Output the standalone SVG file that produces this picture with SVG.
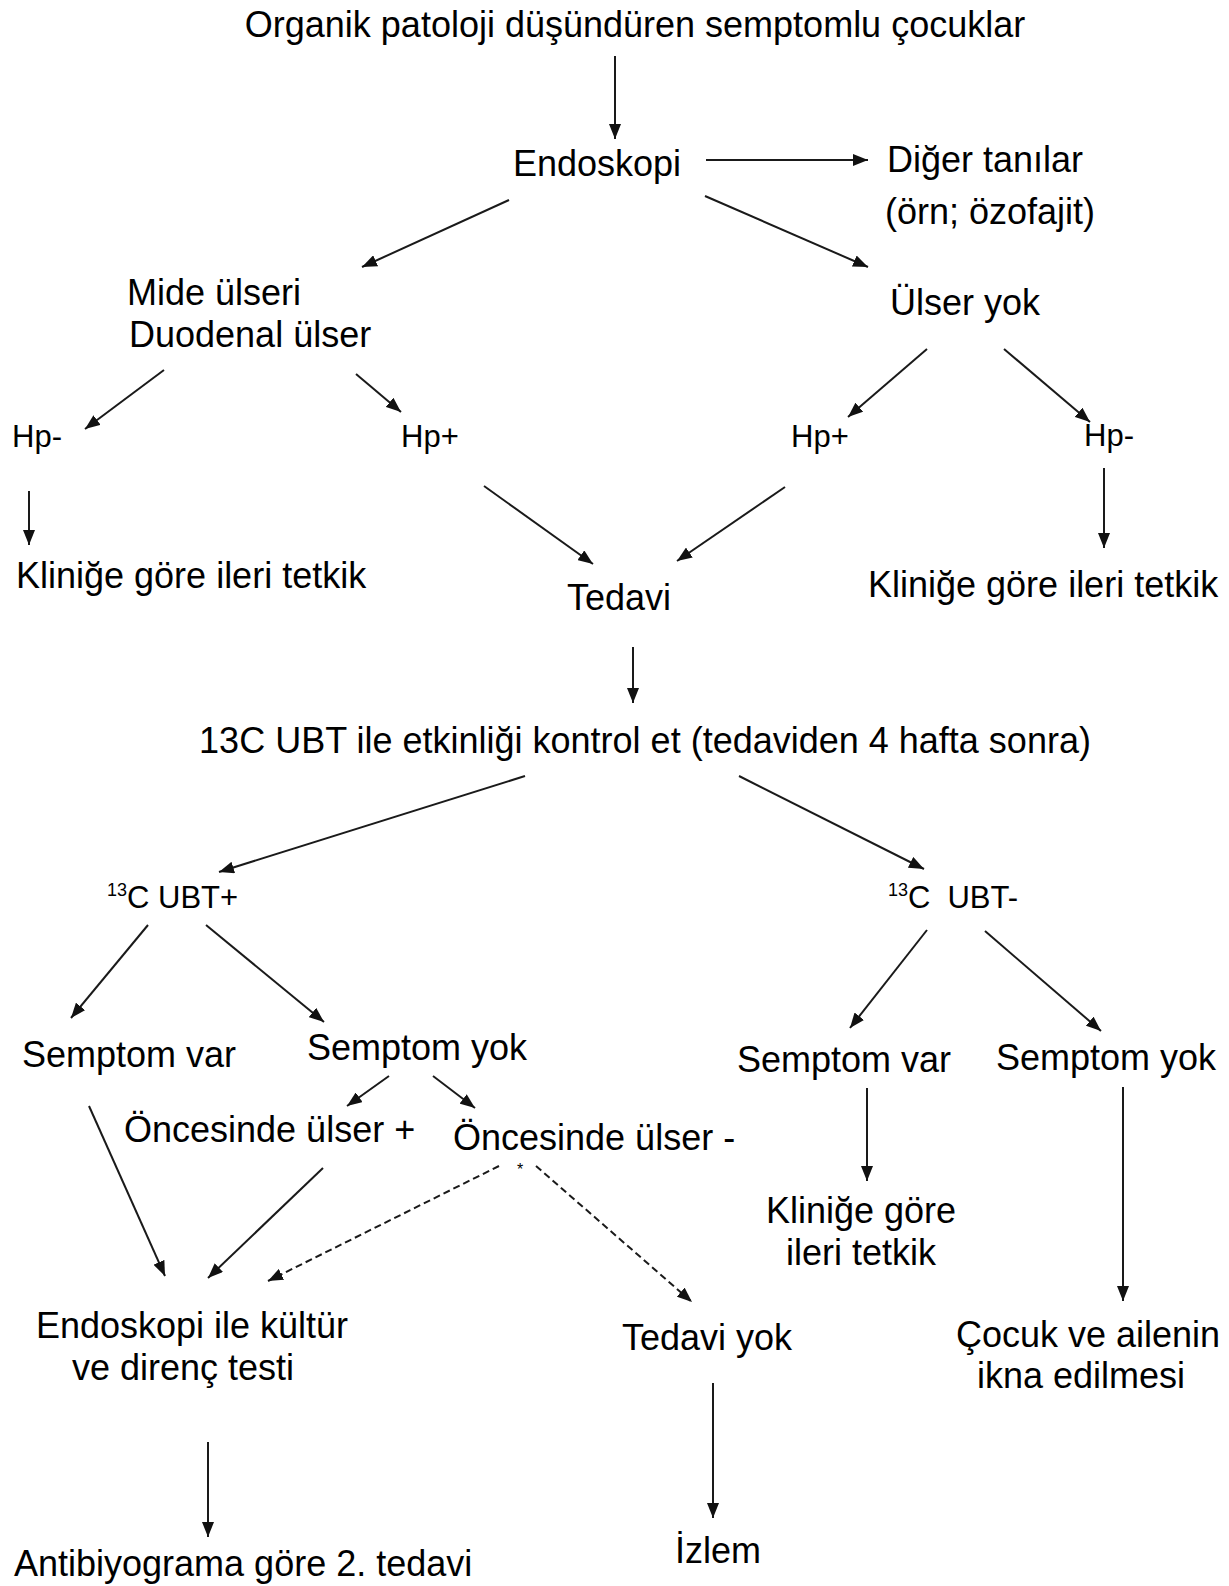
<svg xmlns="http://www.w3.org/2000/svg" width="1229" height="1586" viewBox="0 0 1229 1586">
<style>
text{font-family:"Liberation Sans",Arial,sans-serif;font-size:36px;fill:#000}
.s{font-size:31px}
.sup{font-size:18px}
.c{text-anchor:middle}
.e{stroke:#1a1a1a;stroke-width:2;fill:none;marker-end:url(#ah)}
.d{stroke-dasharray:7 4}
</style>
<defs>
<marker id="ah" markerUnits="userSpaceOnUse" markerWidth="16" markerHeight="12" refX="15" refY="6" orient="auto">
<path d="M0,0 L15,6 L0,12 z" fill="#111"/>
</marker>
</defs>
<rect width="1229" height="1586" fill="#fff"/>
<g id="connectors">
<line class="e" x1="615" y1="56" x2="615" y2="139"/>
<line class="e" x1="706" y1="160" x2="868" y2="160"/>
<line class="e" x1="509" y1="200" x2="362" y2="267"/>
<line class="e" x1="705" y1="196" x2="868" y2="267"/>
<line class="e" x1="164" y1="370" x2="85" y2="429"/>
<line class="e" x1="356" y1="374" x2="401" y2="412"/>
<line class="e" x1="927" y1="349" x2="848" y2="417"/>
<line class="e" x1="1004" y1="349" x2="1090" y2="422"/>
<line class="e" x1="29" y1="491" x2="29" y2="545"/>
<line class="e" x1="484" y1="486" x2="593" y2="564"/>
<line class="e" x1="785" y1="487" x2="677" y2="561"/>
<line class="e" x1="1104" y1="468" x2="1104" y2="548"/>
<line class="e" x1="633" y1="647" x2="633" y2="703"/>
<line class="e" x1="525" y1="776" x2="219" y2="872"/>
<line class="e" x1="739" y1="776" x2="924" y2="869"/>
<line class="e" x1="148" y1="925" x2="71" y2="1018"/>
<line class="e" x1="206" y1="925" x2="324" y2="1022"/>
<line class="e" x1="927" y1="930" x2="850" y2="1028"/>
<line class="e" x1="985" y1="931" x2="1101" y2="1031"/>
<line class="e" x1="389" y1="1076" x2="347" y2="1106"/>
<line class="e" x1="433" y1="1076" x2="475" y2="1108"/>
<line class="e" x1="89" y1="1106" x2="165" y2="1276"/>
<line class="e" x1="323" y1="1168" x2="208" y2="1278"/>
<line class="e d" x1="499" y1="1166" x2="268" y2="1281"/>
<line class="e d" x1="536" y1="1166" x2="692" y2="1302"/>
<line class="e" x1="867" y1="1088" x2="867" y2="1181"/>
<line class="e" x1="1123" y1="1087" x2="1123" y2="1301"/>
<line class="e" x1="208" y1="1442" x2="208" y2="1537"/>
<line class="e" x1="713" y1="1383" x2="713" y2="1518"/>
</g>
<g id="n-title"><text class="c" x="635" y="37">Organik patoloji düşündüren semptomlu çocuklar</text></g>
<g id="n-endoskopi"><text class="c" x="597" y="176">Endoskopi</text></g>
<g id="n-diger"><text x="887" y="172">Diğer tanılar</text><text x="885" y="224">(örn; özofajit)</text></g>
<g id="n-ulser"><text x="127" y="305">Mide ülseri</text><text x="129" y="347">Duodenal ülser</text></g>
<g id="n-ulseryok"><text x="890" y="315">Ülser yok</text></g>
<g id="n-hp-neg-l"><text class="s" x="12" y="447">Hp-</text></g>
<g id="n-hp-pos-l"><text class="s" x="401" y="447">Hp+</text></g>
<g id="n-hp-pos-r"><text class="s" x="791" y="447">Hp+</text></g>
<g id="n-hp-neg-r"><text class="s" x="1084" y="446">Hp-</text></g>
<g id="n-klinik-l"><text x="16" y="588">Kliniğe göre ileri tetkik</text></g>
<g id="n-tedavi"><text class="c" x="619" y="610">Tedavi</text></g>
<g id="n-klinik-r"><text x="868" y="597">Kliniğe göre ileri tetkik</text></g>
<g id="n-ubt"><text class="c" x="645" y="753">13C UBT ile etkinliği kontrol et (tedaviden 4 hafta sonra)</text></g>
<g id="n-ubt-pos"><text class="s" x="107" y="908"><tspan class="sup" dy="-12">13</tspan><tspan dy="12">C UBT+</tspan></text></g>
<g id="n-ubt-neg"><text class="s" x="888" y="908"><tspan class="sup" dy="-12">13</tspan><tspan dy="12">C</tspan><tspan dx="17">UBT-</tspan></text></g>
<g id="n-sv-l"><text x="22" y="1067">Semptom var</text></g>
<g id="n-sy-l"><text x="307" y="1060">Semptom yok</text></g>
<g id="n-sv-r"><text x="737" y="1072">Semptom var</text></g>
<g id="n-sy-r"><text x="996" y="1070">Semptom yok</text></g>
<g id="n-onc-pos"><text x="124" y="1142">Öncesinde ülser +</text></g>
<g id="n-onc-neg"><text x="453" y="1150">Öncesinde ülser -</text><text class="c" x="520" y="1175" style="font-size:16px">*</text></g>
<g id="n-klinik-b"><text class="c" x="861" y="1223">Kliniğe göre</text><text class="c" x="861" y="1265">ileri tetkik</text></g>
<g id="n-endo-kultur"><text class="c" x="192" y="1338">Endoskopi ile kültür</text><text class="c" x="183" y="1380">ve direnç testi</text></g>
<g id="n-tedavi-yok"><text class="c" x="707" y="1350">Tedavi yok</text></g>
<g id="n-cocuk"><text class="c" x="1088" y="1347">Çocuk ve ailenin</text><text class="c" x="1081" y="1388">ikna edilmesi</text></g>
<g id="n-antibiyo"><text x="14" y="1576">Antibiyograma göre 2. tedavi</text></g>
<g id="n-izlem"><text x="675" y="1563">İzlem</text></g>
</svg>
